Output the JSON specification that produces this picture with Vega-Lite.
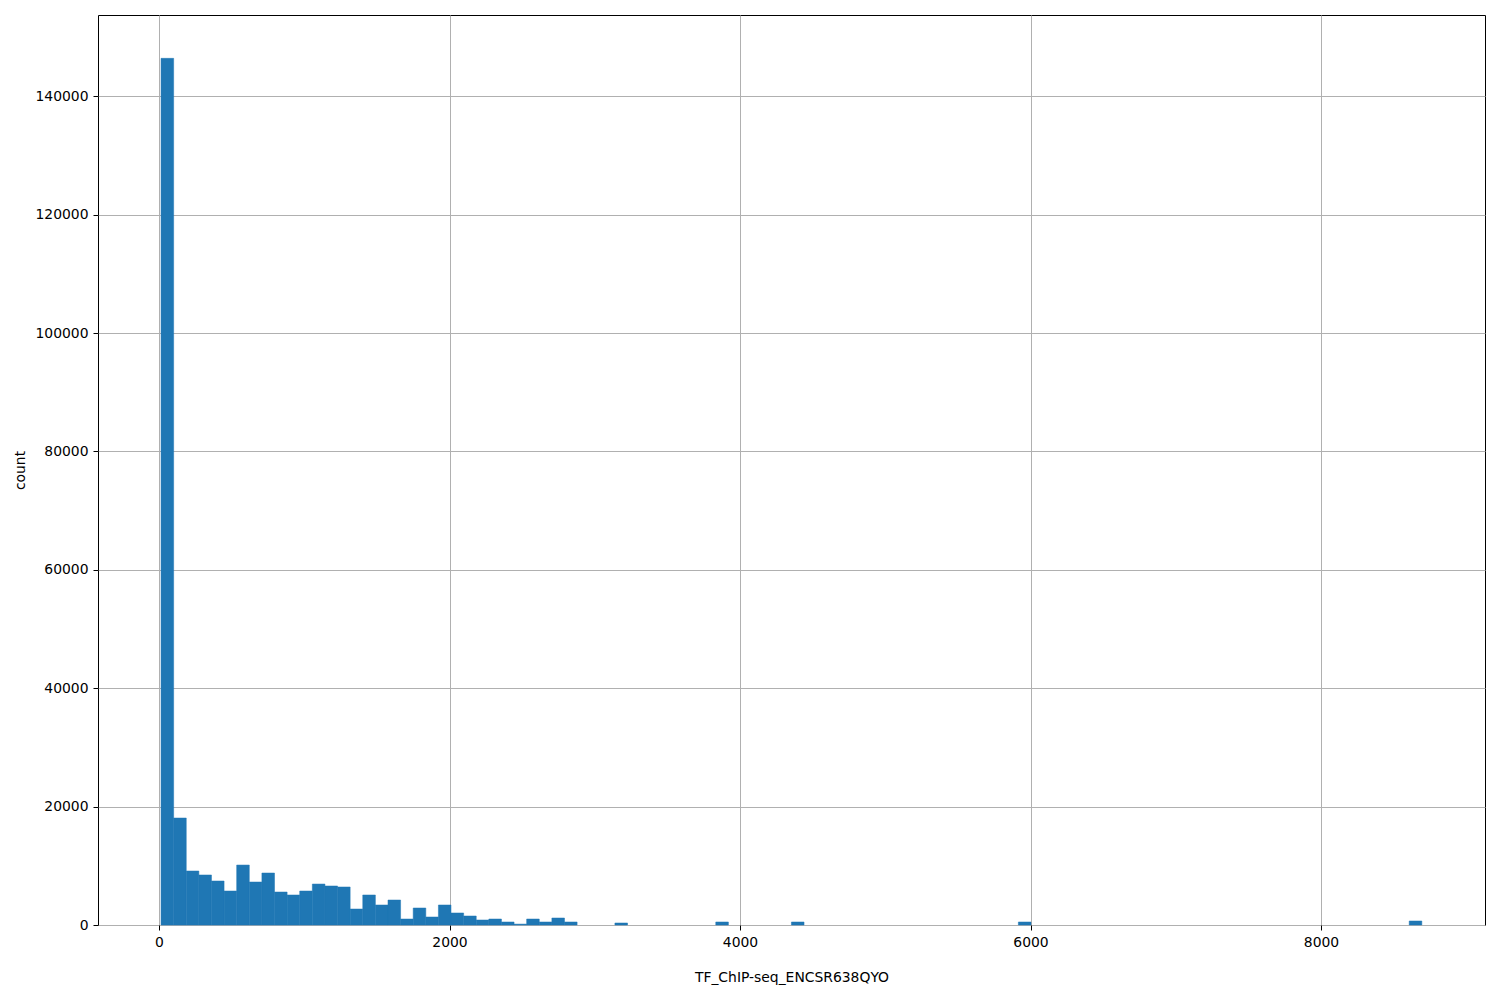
{
  "$schema": "https://vega.github.io/schema/vega-lite/v6.json",
  "width": 1387,
  "height": 910,
  "autosize": {"type": "none"},
  "padding": {"left": 98, "top": 15, "right": 15, "bottom": 75},
  "background": "white",
  "config": {
    "view": {"stroke": "black", "strokeWidth": 1},
    "font": "DejaVu Sans",
    "axis": {
      "labelFont": "DejaVu Sans",
      "labelFontSize": 13.9,
      "labelColor": "black",
      "titleFont": "DejaVu Sans",
      "titleFontSize": 13.9,
      "titleFontWeight": "normal",
      "titleColor": "black",
      "tickColor": "black",
      "tickSize": 5,
      "tickWidth": 1,
      "labelPadding": 5,
      "domain": false,
      "grid": true,
      "gridColor": "#b0b0b0",
      "gridWidth": 1,
      "zindex": 1
    }
  },
  "data": {
    "values": [
      {"bin_start": 14.0, "bin_end": 100.8, "count": 146400},
      {"bin_start": 100.8, "bin_end": 187.6, "count": 18070},
      {"bin_start": 187.6, "bin_end": 274.4, "count": 9120},
      {"bin_start": 274.4, "bin_end": 361.2, "count": 8450},
      {"bin_start": 361.2, "bin_end": 448.0, "count": 7430},
      {"bin_start": 448.0, "bin_end": 534.8, "count": 5740},
      {"bin_start": 534.8, "bin_end": 621.6, "count": 10130},
      {"bin_start": 621.6, "bin_end": 708.4, "count": 7260},
      {"bin_start": 708.4, "bin_end": 795.2, "count": 8780},
      {"bin_start": 795.2, "bin_end": 882.0, "count": 5570},
      {"bin_start": 882.0, "bin_end": 968.8, "count": 5070},
      {"bin_start": 968.8, "bin_end": 1055.6, "count": 5740},
      {"bin_start": 1055.6, "bin_end": 1142.4, "count": 6920},
      {"bin_start": 1142.4, "bin_end": 1229.2, "count": 6590},
      {"bin_start": 1229.2, "bin_end": 1316.0, "count": 6420},
      {"bin_start": 1316.0, "bin_end": 1402.8, "count": 2700},
      {"bin_start": 1402.8, "bin_end": 1489.6, "count": 5070},
      {"bin_start": 1489.6, "bin_end": 1576.4, "count": 3380},
      {"bin_start": 1576.4, "bin_end": 1663.2, "count": 4220},
      {"bin_start": 1663.2, "bin_end": 1750.0, "count": 1010},
      {"bin_start": 1750.0, "bin_end": 1836.8, "count": 2870},
      {"bin_start": 1836.8, "bin_end": 1923.6, "count": 1350},
      {"bin_start": 1923.6, "bin_end": 2010.4, "count": 3380},
      {"bin_start": 2010.4, "bin_end": 2097.2, "count": 2030},
      {"bin_start": 2097.2, "bin_end": 2184.0, "count": 1520},
      {"bin_start": 2184.0, "bin_end": 2270.8, "count": 845},
      {"bin_start": 2270.8, "bin_end": 2357.6, "count": 1010},
      {"bin_start": 2357.6, "bin_end": 2444.4, "count": 507},
      {"bin_start": 2444.4, "bin_end": 2531.2, "count": 150},
      {"bin_start": 2531.2, "bin_end": 2618.0, "count": 1010},
      {"bin_start": 2618.0, "bin_end": 2704.8, "count": 507},
      {"bin_start": 2704.8, "bin_end": 2791.6, "count": 1180},
      {"bin_start": 2791.6, "bin_end": 2878.4, "count": 507},
      {"bin_start": 3138.8, "bin_end": 3225.6, "count": 340},
      {"bin_start": 3833.2, "bin_end": 3920.0, "count": 507},
      {"bin_start": 4354.0, "bin_end": 4440.8, "count": 507},
      {"bin_start": 5916.4, "bin_end": 6003.2, "count": 507},
      {"bin_start": 8607.2, "bin_end": 8694.0, "count": 676}
    ]
  },
  "mark": {"type": "bar", "color": "#1f77b4", "stroke": "#1f77b4", "strokeWidth": 0.5, "orient": "vertical", "binSpacing": 0},
  "encoding": {
    "x": {
      "field": "bin_start",
      "type": "quantitative",
      "scale": {"domain": [-420, 9129], "nice": false, "zero": false, "padding": 0},
      "axis": {"values": [0, 2000, 4000, 6000, 8000], "format": "d", "title": "TF_ChIP-seq_ENCSR638QYO", "titlePadding": 22}
    },
    "x2": {"field": "bin_end"},
    "y": {
      "field": "count",
      "type": "quantitative",
      "scale": {"domain": [0, 153720], "nice": false, "zero": true, "padding": 0},
      "axis": {"values": [0, 20000, 40000, 60000, 80000, 100000, 120000, 140000], "format": "d", "title": "count", "titlePadding": 7}
    },
    "y2": {"datum": 0}
  }
}
